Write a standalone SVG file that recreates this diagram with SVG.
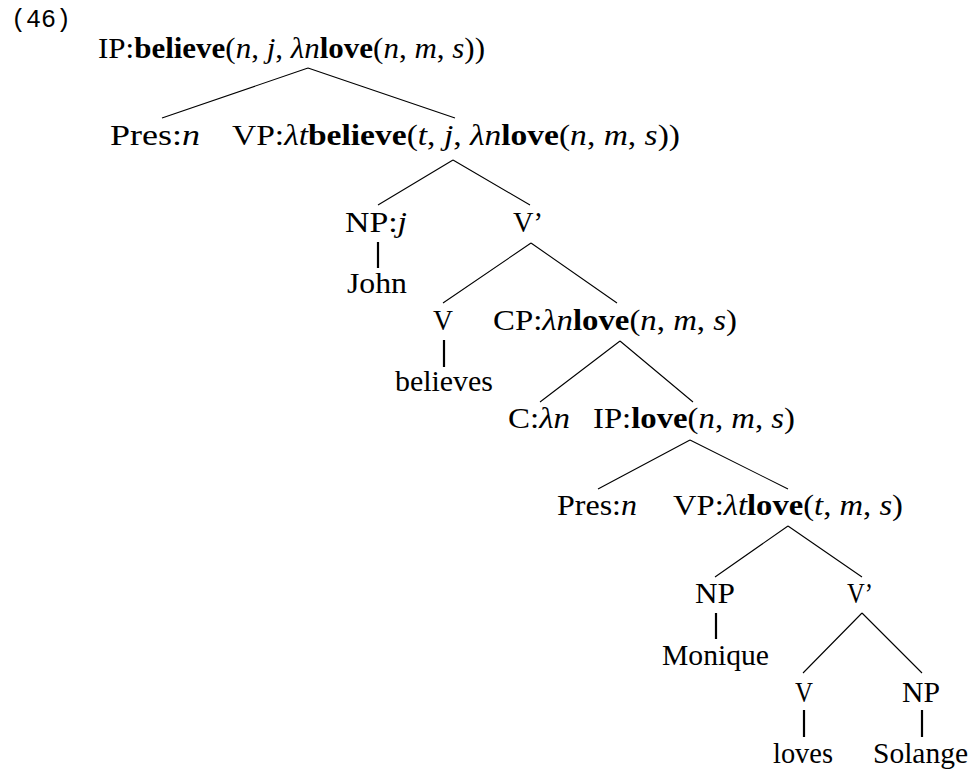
<svg xmlns="http://www.w3.org/2000/svg" width="973" height="770" viewBox="0 0 973 770">
<style>
text{font-family:"Liberation Serif","Times New Roman",serif;font-size:30px;fill:#000}
.b{font-weight:bold}
.i{font-style:italic}
.num{font-family:"Liberation Mono","Courier New",monospace;font-size:25px}
.e{stroke:#000;stroke-width:1.1;fill:none}
.v{stroke:#000;stroke-width:2.2;fill:none}
</style>
<rect width="973" height="770" fill="#fff"/>
<text class="num" x="11" y="27">(46)</text>
<g id="connectors">
<path class="e" d="M308 68L162 118M308 68L455 118"/>
<path class="e" d="M453 160L378 205M453 160L530 205"/>
<path class="v" d="M378 242V268"/>
<path class="e" d="M531 243L443 303M531 243L617 303"/>
<path class="v" d="M444 340V367"/>
<path class="e" d="M620 341L540 402M620 341L693 402"/>
<path class="e" d="M690 440L598 489M690 440L788 489"/>
<path class="e" d="M788 526L715 577M788 526L862 577"/>
<path class="v" d="M716 613V639"/>
<path class="e" d="M862 613L803 673M862 613L922 673"/>
<path class="v" d="M804 710V737"/>
<path class="v" d="M922 710V737"/>
</g>
<g id="ip1"><text x="98" y="58" textLength="387" lengthAdjust="spacingAndGlyphs">IP:<tspan class="b">believe</tspan>(<tspan class="i">n</tspan>, <tspan class="i">j</tspan>, <tspan class="i">λn</tspan><tspan class="b">love</tspan>(<tspan class="i">n</tspan>, <tspan class="i">m</tspan>, <tspan class="i">s</tspan>))</text></g>
<g id="pres1"><text x="110" y="145" textLength="90" lengthAdjust="spacingAndGlyphs">Pres:<tspan class="i">n</tspan></text></g>
<g id="vp1"><text x="232" y="145" textLength="448" lengthAdjust="spacingAndGlyphs">VP:<tspan class="i">λt</tspan><tspan class="b">believe</tspan>(<tspan class="i">t</tspan>, <tspan class="i">j</tspan>, <tspan class="i">λn</tspan><tspan class="b">love</tspan>(<tspan class="i">n</tspan>, <tspan class="i">m</tspan>, <tspan class="i">s</tspan>))</text></g>
<g id="npj"><text x="345" y="232" textLength="62" lengthAdjust="spacingAndGlyphs">NP:<tspan class="i">j</tspan></text></g>
<g id="vbar1"><text x="513" y="232" textLength="30" lengthAdjust="spacingAndGlyphs">V’</text></g>
<g id="john"><text x="347" y="293" textLength="60" lengthAdjust="spacingAndGlyphs">John</text></g>
<g id="v1"><text x="433" y="330" textLength="20" lengthAdjust="spacingAndGlyphs">V</text></g>
<g id="cp"><text x="493" y="330" textLength="244" lengthAdjust="spacingAndGlyphs">CP:<tspan class="i">λn</tspan><tspan class="b">love</tspan>(<tspan class="i">n</tspan>, <tspan class="i">m</tspan>, <tspan class="i">s</tspan>)</text></g>
<g id="believes"><text x="395" y="391" textLength="98" lengthAdjust="spacingAndGlyphs">believes</text></g>
<g id="c"><text x="508" y="428" textLength="62" lengthAdjust="spacingAndGlyphs">C:<tspan class="i">λn</tspan></text></g>
<g id="ip2"><text x="593" y="428" textLength="202" lengthAdjust="spacingAndGlyphs">IP:<tspan class="b">love</tspan>(<tspan class="i">n</tspan>, <tspan class="i">m</tspan>, <tspan class="i">s</tspan>)</text></g>
<g id="pres2"><text x="557" y="515" textLength="80" lengthAdjust="spacingAndGlyphs">Pres:<tspan class="i">n</tspan></text></g>
<g id="vp2"><text x="673" y="515" textLength="230" lengthAdjust="spacingAndGlyphs">VP:<tspan class="i">λt</tspan><tspan class="b">love</tspan>(<tspan class="i">t</tspan>, <tspan class="i">m</tspan>, <tspan class="i">s</tspan>)</text></g>
<g id="np2"><text x="695" y="603" textLength="40" lengthAdjust="spacingAndGlyphs">NP</text></g>
<g id="vbar2"><text x="847" y="603" textLength="26" lengthAdjust="spacingAndGlyphs">V’</text></g>
<g id="monique"><text x="662" y="665" textLength="107" lengthAdjust="spacingAndGlyphs">Monique</text></g>
<g id="v2"><text x="795" y="702" textLength="18" lengthAdjust="spacingAndGlyphs">V</text></g>
<g id="np3"><text x="902" y="702" textLength="38" lengthAdjust="spacingAndGlyphs">NP</text></g>
<g id="loves"><text x="773" y="763" textLength="60" lengthAdjust="spacingAndGlyphs">loves</text></g>
<g id="solange"><text x="873" y="763" textLength="95" lengthAdjust="spacingAndGlyphs">Solange</text></g>
</svg>
